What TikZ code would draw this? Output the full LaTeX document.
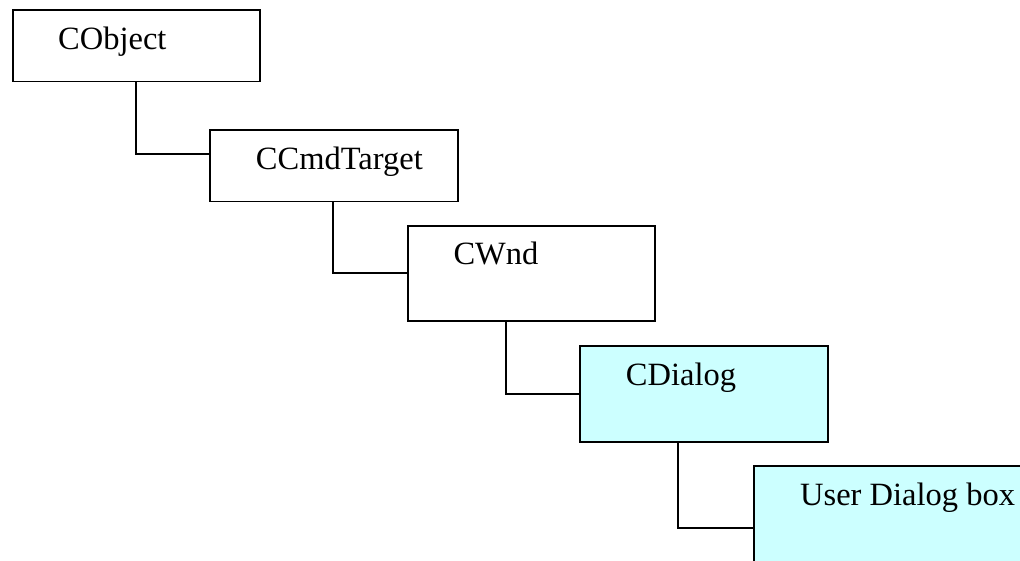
\documentclass[tikz,border=0pt]{standalone}
\usepackage{fontspec}
\setmainfont{Liberation Serif}
\definecolor{boxcyan}{HTML}{CCFFFF}
\begin{document}
\begin{tikzpicture}[x=1pt,y=-1pt,
  cls/.style={draw=black,line width=1.8pt,rectangle,inner sep=0pt,anchor=north west},
  lbl/.style={anchor=base west,inner sep=0pt,font=\fontsize{32.5}{38}\selectfont},
  conn/.style={draw=black,line width=1.8pt}]
\clip (0,0) rectangle (1020,561);
\fill[white] (0,0) rectangle (1020,561);
% boxes
\node[cls,minimum width=247.3pt,minimum height=71.7pt] (obj) at (11.7,9) {};
\node[cls,minimum width=247.7pt,minimum height=71.4pt] (cmd) at (209,129.3) {};
\node[cls,minimum width=247.6pt,minimum height=95pt] (wnd) at (406.7,225) {};
\node[cls,fill=boxcyan,minimum width=247.4pt,minimum height=95.7pt] (dlg) at (579.3,345) {};
\node[cls,fill=boxcyan,minimum width=280pt,minimum height=110pt] (usr) at (752.7,465) {};
% labels
\node[lbl] (tobj) at (58,50) {CObject};
\node[lbl] (tcmd) at (255.7,170) {CCmdTarget};
\node[lbl] (twnd) at (453.3,265) {CWnd};
\node[lbl] (tdlg) at (625.7,385) {CDialog};
\node[lbl] (tusr) at (800,505) {User Dialog box};
% connectors
\draw[conn] ([xshift=124pt]obj.south west) |- ([yshift=12pt]cmd.west);
\draw[conn] ([xshift=124.3pt]cmd.south west) |- (wnd.west);
\draw[conn] ([xshift=99.3pt]wnd.south west) |- (dlg.west);
\draw[conn] ([xshift=99pt]dlg.south west) |- ([yshift=-7.3pt]usr.west);
\end{tikzpicture}
\end{document}
